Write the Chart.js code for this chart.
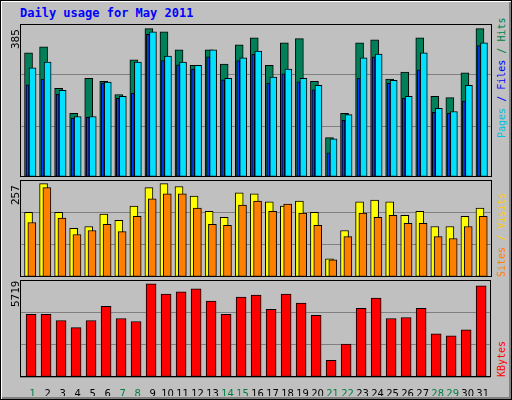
<!DOCTYPE html>
<html><head><meta charset="utf-8">
<script src="https://cdn.jsdelivr.net/npm/chart.js@4"></script>
<style>
body{margin:0;background:#c0c0c0;width:512px;height:400px;overflow:hidden;font-family:"DejaVu Sans Mono",monospace}
#frame{position:absolute;left:0;top:0;width:510px;height:398px;border:1px solid #000;box-shadow:inset 1px 1px 0 #fff,inset -2px -2px 0 #808080}
.p{position:absolute;left:20px;width:472px}
.lbl{position:absolute;font-size:11px;white-space:nowrap;transform-origin:0 0;transform:rotate(-90deg)}
.r{font-size:10px}
#title{position:absolute;left:20px;top:6px;color:#0000ff;font-weight:bold;font-size:12px}
</style></head><body>
<div id="frame"></div>
<div id="title">Daily usage for May 2011</div>
<div class="p" style="top:24px;height:153px"><canvas id="c1"></canvas></div>
<div class="p" style="top:180px;height:97px"><canvas id="c2"></canvas></div>
<div class="p" style="top:280px;height:116px"><canvas id="c3"></canvas></div>
<div class="lbl" style="left:9px;top:49px;color:#000">385</div>
<div class="lbl" style="left:9px;top:205px;color:#000">257</div>
<div class="lbl" style="left:9px;top:307px;color:#000">5719</div>
<div class="lbl r" style="left:496px;top:138px"><span style="color:#00c0e0">Pages</span> <span style="color:#0000ff">/</span> <span style="color:#0000ff">Files</span> <span style="color:#008040">/</span> <span style="color:#008040">Hits</span></div>
<div class="lbl r" style="left:496px;top:277px"><span style="color:#ff8000">Sites</span> <span style="color:#ffcc00">/</span> <span style="color:#ffcc00">Visits</span></div>
<div class="lbl r" style="left:496px;top:377px;color:#ff0000">KBytes</div>
<script>
const days=[1,2,3,4,5,6,7,8,9,10,11,12,13,14,15,16,17,18,19,20,21,22,23,24,25,26,27,28,29,30,31];
const dayLabels=days.map(String);
const weekend=[1,7,8,14,15,21,22,28,29];
const hits=[322,338,230,165,256,248,214,304,385,377,330,290,330,293,343,361,290,348,359,248,102,165,348,356,254,272,361,209,206,270,385];
const files=[283,298,225,157,157,246,209,298,377,314,298,290,330,256,309,327,259,280,256,238,99,162,309,319,251,209,322,178,170,238,348];
const pages=[239,254,215,152,155,244,204,217,370,302,291,280,312,252,302,318,244,268,247,226,63,147,256,312,243,205,278,168,165,197,341];
const visits=[178,257,178,134,139,173,156,195,246,257,249,223,181,164,232,229,207,195,209,178,50,128,207,212,207,170,181,139,139,167,190];
const sites=[150,246,162,117,128,145,125,167,215,229,229,190,145,142,198,209,181,201,176,142,47,111,176,164,170,148,148,111,106,139,167];
const kbytes=[3840,3840,3465,3026,3465,4341,3590,3402,5719,5092,5218,5405,4654,3840,4904,5030,4153,5092,4529,3777,1023,2024,4216,4842,3590,3652,4216,2650,2525,2901,5593];

const border={id:'border',afterDraw(c){const a=c.chartArea,x=c.ctx;x.save();x.strokeStyle='#000';x.lineWidth=1;x.strokeRect(Math.round(a.left)+0.5,Math.round(a.top)+0.5,Math.round(a.width)-1,Math.round(a.height)-1);x.restore();}};
function ds(vals,off,color,w){return {data:vals.map((v,i)=>({x:days[i]+off,y:v})),backgroundColor:color,borderColor:'#000',borderWidth:1,borderSkipped:false,barThickness:w,grouped:false};}
function make(id,datasets,max,showX){
  const x={type:'linear',min:0.433,max:31.8,offset:false,display:showX,grid:{display:false},border:{display:false},
       afterBuildTicks(s){s.ticks=days.map(d=>({value:d+0.27}));},
       ticks:{autoSkip:false,maxRotation:0,padding:3,font:{family:'DejaVu Sans',size:10},
         callback:(v,i)=>dayLabels[i],
         color:(c)=>weekend.includes(days[c.index])?'#008040':'#000'}};
  if(showX) x.afterFit=(s)=>{s.height=19;};
  new Chart(document.getElementById(id),{type:'bar',data:{datasets},
  options:{responsive:true,maintainAspectRatio:false,animation:false,
   plugins:{legend:{display:false},tooltip:{enabled:false}},
   layout:{padding:0},
   scales:{x,
    y:{min:0,max:max,display:true,border:{display:false},
       afterBuildTicks(s){s.ticks=[0,max/3,2*max/3,max].map(v=>({value:v}));},
       afterFit(s){s.width=0;},
       ticks:{display:false},grid:{color:'#808080',drawTicks:false,lineWidth:1}}
   }},plugins:[border]});
}
make('c1',[ds(files,0.267,'#00e0ff',7),ds(pages,-0.067,'#0040ff',3),ds(hits,0,'#008058',8)],397,false);
make('c2',[ds(sites,0.22,'#ff8000',8),ds(visits,0,'#ffff00',8)],267,false);
make('c3',[ds(kbytes,0.17,'#ff0000',10)],5950,true);
</script></body></html>
